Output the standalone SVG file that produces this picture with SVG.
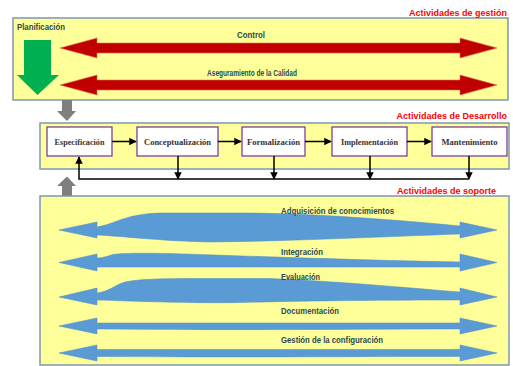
<svg xmlns="http://www.w3.org/2000/svg" width="513" height="366" viewBox="0 0 513 366">
<defs>
<style>
.panel{fill:#ffff99;stroke:#7d98b3;stroke-width:1.5}
.hdr{font-family:"Liberation Sans",Arial,sans-serif;font-weight:bold;font-size:9px;fill:#ff0000}
.lbl{font-family:"Liberation Sans",Arial,sans-serif;font-weight:bold;font-size:8.5px;fill:#2a4a52}
.node rect{fill:#ffffff;stroke:#7030a0;stroke-width:1.2}
.node text{font-family:"Liberation Serif","Times New Roman",serif;font-weight:bold;font-size:7.5px;fill:#333333;text-anchor:middle}
.red{fill:#c00000;stroke:#e0704a;stroke-width:0.6}
.blue{fill:#5b9bd5;stroke:#4f8ac4;stroke-width:0.5}
.gray{fill:#7f7f7f}
.conn{fill:none;stroke:#000000;stroke-width:1.5}
</style>
<marker id="ah" viewBox="0 0 10 10" refX="9" refY="5" markerWidth="5" markerHeight="5" orient="auto">
<path d="M0,0 L10,5 L0,10 Z" fill="#000000"/>
</marker>
</defs>

<g id="gestion">
<rect class="panel" x="13" y="18" width="495" height="82"/>
<text class="hdr" x="507" y="16" text-anchor="end">Actividades de gestión</text>
<text class="lbl" x="17" y="30" textLength="48" lengthAdjust="spacingAndGlyphs">Planificación</text>
<path d="M24,40 L51,40 L51,75 L59,75 L37.5,95 L17,75 L24,75 Z" fill="#00b050"/>
<path class="red" d="M60,48 L97,38 L97,43 L460,43 L460,38 L497,48 L460,58 L460,53 L97,53 L97,58 Z"/>
<text class="lbl" x="251" y="38" text-anchor="middle" textLength="28" lengthAdjust="spacingAndGlyphs">Control</text>
<path class="red" d="M60,85 L97,75 L97,80 L460,80 L460,75 L497,85 L460,95 L460,90 L97,90 L97,95 Z"/>
<text class="lbl" x="252" y="75.5" text-anchor="middle" textLength="90" lengthAdjust="spacingAndGlyphs">Aseguramiento de la Calidad</text>
</g>

<g id="flow-arrows">
<path class="gray" d="M62,100 L72,100 L72,111 L76,111 L67,121 L57,111 L62,111 Z"/>
<path class="gray" d="M62,196 L72,196 L72,186 L76,186 L67,176.5 L57,186 L62,186 Z"/>
</g>

<g id="desarrollo">
<rect class="panel" x="40" y="123" width="469" height="46"/>
<text class="hdr" x="507" y="119" text-anchor="end">Actividades de Desarrollo</text>
</g>

<g id="especificacion" class="node"><rect x="47" y="127" width="65" height="29"/><text x="79.5" y="144.5" textLength="50" lengthAdjust="spacingAndGlyphs">Especificación</text></g>
<g id="conceptualizacion" class="node"><rect x="137" y="127" width="81" height="29"/><text x="177.5" y="144.5" textLength="67" lengthAdjust="spacingAndGlyphs">Conceptualización</text></g>
<g id="formalizacion" class="node"><rect x="242" y="127" width="63" height="29"/><text x="273.5" y="144.5" textLength="53" lengthAdjust="spacingAndGlyphs">Formalización</text></g>
<g id="implementacion" class="node"><rect x="332" y="127" width="75" height="29"/><text x="369.5" y="144.5" textLength="57" lengthAdjust="spacingAndGlyphs">Implementación</text></g>
<g id="mantenimiento" class="node"><rect x="432" y="127" width="75" height="29"/><text x="469.5" y="144.5" textLength="56" lengthAdjust="spacingAndGlyphs">Mantenimiento</text></g>

<g id="connectors">
<path class="conn" d="M112,141.5 L136,141.5" marker-end="url(#ah)"/>
<path class="conn" d="M218,141.5 L241,141.5" marker-end="url(#ah)"/>
<path class="conn" d="M305,141.5 L331,141.5" marker-end="url(#ah)"/>
<path class="conn" d="M407,141.5 L431,141.5" marker-end="url(#ah)"/>
<path class="conn" d="M178,156 L178,179" marker-end="url(#ah)"/>
<path class="conn" d="M274,156 L274,179" marker-end="url(#ah)"/>
<path class="conn" d="M370,156 L370,179" marker-end="url(#ah)"/>
<path class="conn" d="M469,156 L469,179" marker-end="url(#ah)"/>
<path class="conn" d="M469,179 L79,179 L79,157" marker-end="url(#ah)"/>
</g>

<g id="soporte">
<rect class="panel" x="40" y="196" width="469" height="169"/>
<text class="hdr" x="496" y="194" text-anchor="end">Actividades de soporte</text>
<path class="blue" d="M59,230 L97,222 L97,227 C115,224 125,214 160,213 L250,213 C330,214 420,222 460,226 L460,222 L497,230 L460,238 L460,234 C400,236 300,241 210,242 C160,241 120,236 97,235 L97,238 Z"/>
<text class="lbl" x="281" y="214" textLength="113" lengthAdjust="spacingAndGlyphs">Adquisición de conocimientos</text>
<path class="blue" d="M59,262.5 L97,254 L97,258 C103,258 108,256 113,254.5 C125,252.5 160,253 200,254.5 C300,258 400,261 460,262 L460,254 L497,262.5 L460,271 L460,267 L97,267 L97,271 Z"/>
<text class="lbl" x="281" y="254.5" textLength="42" lengthAdjust="spacingAndGlyphs">Integración</text>
<path class="blue" d="M59,297 L97,288 L97,293 C108,292 115,285 125,282 C140,279 160,278.5 200,278.5 L270,278.5 C350,282 420,289 460,292 L460,288 L497,297 L460,305 L460,300 C380,300 300,301 240,302.5 C190,303.5 130,301 97,300 L97,305 Z"/>
<text class="lbl" x="281" y="279.5" textLength="39" lengthAdjust="spacingAndGlyphs">Evaluación</text>
<path class="blue" d="M59,326 L97,318 L97,323 L460,323 L460,318 L497,326 L460,334 L460,329 C350,329 250,330.5 97,329 L97,334 Z"/>
<text class="lbl" x="281" y="314" textLength="58" lengthAdjust="spacingAndGlyphs">Documentación</text>
<path class="blue" d="M59,353 L97,345 L97,349.5 L460,349.5 L460,345 L497,353 L460,361 L460,356.5 C350,356.5 250,357.5 97,356.5 L97,361 Z"/>
<text class="lbl" x="281" y="343" textLength="102" lengthAdjust="spacingAndGlyphs">Gestión de la configuración</text>
</g>
</svg>
